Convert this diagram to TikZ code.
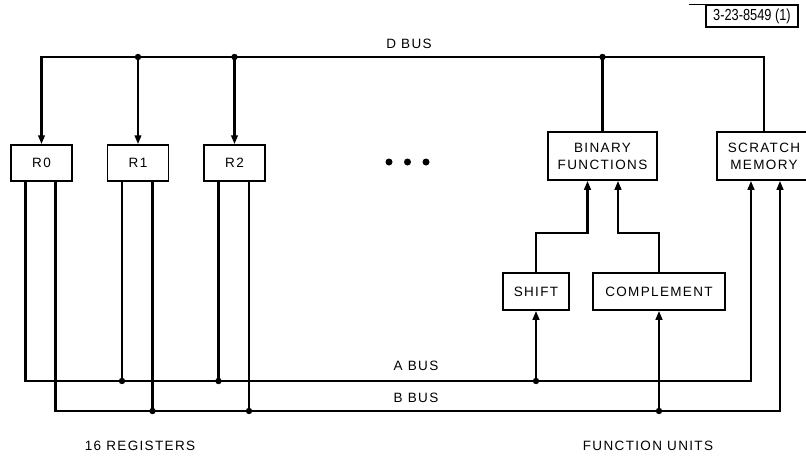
\documentclass[tikz,border=0pt]{standalone}
\usepackage{fontspec}
\setmainfont{Liberation Sans}
\newfontfamily\lettering[LetterSpace=10]{Liberation Sans}
\newfontfamily\tagfont[FakeStretch=0.8]{Liberation Sans}
\usetikzlibrary{arrows.meta}

\tikzset{
  unit/.style={draw,line width=1.5pt,align=center,inner sep=0pt,
    font=\lettering\fontsize{13.5}{17}\selectfont},
  lbl/.style={inner sep=0pt,font=\lettering\fontsize{13.5}{17}\selectfont},
  bus/.style={line width=2.5pt},
  feed/.style={bus,-{Triangle[length=9pt,width=6.5pt]}},
}

\begin{document}
\begin{tikzpicture}[x=1pt,y=-1pt,line join=miter]
\useasboundingbox (0,0) rectangle (806,461);

\def\yd{57}
\def\ya{381}
\def\yb{411}

% 寄存器
\node[unit,minimum width=61pt,minimum height=36pt] (r0) at (41.5,163) {R0};
\node[unit,minimum width=61pt,minimum height=36pt] (r1) at (138,163) {R1};
\node[unit,minimum width=61pt,minimum height=36pt] (r2) at (234.5,163) {R2};

% 功能单元
\node[unit,minimum width=109pt,minimum height=48pt] (binfn) at (602.5,156) {BINARY\\FUNCTIONS};
\node[unit,minimum width=94pt,minimum height=48pt] (scratch) at (764,156) {SCRATCH\\MEMORY};
\node[unit,minimum width=66pt,minimum height=37pt] (shift) at (536,291.5) {SHIFT};
\node[unit,minimum width=132pt,minimum height=37pt] (compl) at (659,291.5) {COMPLEMENT};

% 图号
\node[draw,line width=1.3pt,minimum width=92pt,minimum height=22pt,inner sep=0pt,
  font=\tagfont\fontsize{16}{18}\selectfont] (tag) at (752,16) {3-23-8549 (1)};
\draw[line width=1.3pt] (tag.north west) -- ++(-16,0);

\coordinate (aE) at (751,\ya);
\coordinate (bE) at (780,\yb);
\coordinate (bfl) at ([xshift=-15pt]binfn.south);
\coordinate (bfr) at ([xshift=15.5pt]binfn.south);

% D 总线
\draw[feed] (scratch.north) |- (r0.north |- 0,\yd) -- (r0.north);
\foreach \r in {r1,r2}{
  \draw[feed] (\r.north |- 0,\yd) -- (\r.north);
  \fill (\r.north |- 0,\yd) circle (3.2pt);
}
\draw[bus] (binfn.north |- 0,\yd) -- (binfn.north);
\fill (binfn.north |- 0,\yd) circle (3.2pt);

% A 总线和 B 总线
\draw[feed] ([xshift=-16pt]r0.south) |- (aE) -- (aE |- scratch.south);
\draw[feed] ([xshift=14pt]r0.south) |- (bE) -- (bE |- scratch.south);
\foreach \r in {r1,r2}{
  \draw[bus] ([xshift=-16pt]\r.south) -- ([xshift=-16pt]\r.south |- aE) coordinate (\r a);
  \fill (\r a) circle (3.2pt);
  \draw[bus] ([xshift=14.5pt]\r.south) -- ([xshift=14.5pt]\r.south |- bE) coordinate (\r b);
  \fill (\r b) circle (3.2pt);
}

% 移位与求补
\draw[feed] (shift.south |- aE) -- (shift.south);
\fill (shift.south |- aE) circle (3.2pt);
\draw[feed] (compl.south |- bE) -- (compl.south);
\fill (compl.south |- bE) circle (3.2pt);
\draw[feed] (shift.north) |- (bfl |- 0,233) -- (bfl);
\draw[feed] (compl.north) |- (bfr |- 0,233) -- (bfr);

% 省略号
\foreach \x in {389,407.5,426}
  \fill (\x,162) circle (3.5pt);

% 标注
\node[lbl] (dbus) at (409,44) {D BUS};
\node[lbl] (abus) at (416,366) {A BUS};
\node[lbl] (bbus) at (416,398) {B BUS};
\node[lbl] (regs) at (140,446) {16 REGISTERS};
\node[lbl] (funits) at (648,446) {FUNCTION UNITS};

\end{tikzpicture}
\end{document}
